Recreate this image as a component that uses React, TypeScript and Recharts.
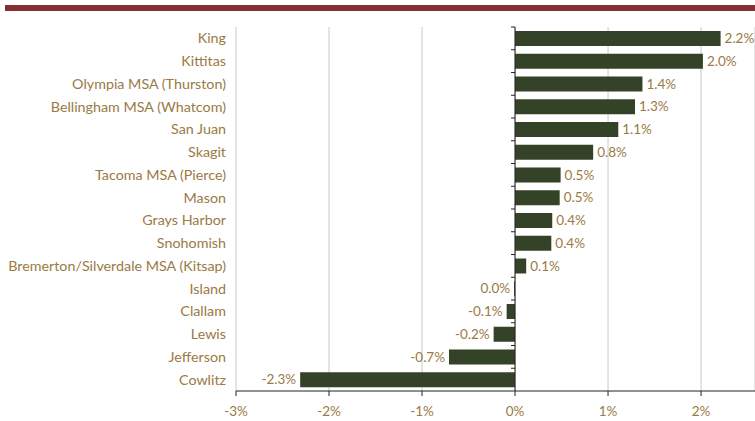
import React from 'react';
import { BarChart, Bar, XAxis, YAxis, CartesianGrid, ReferenceLine, LabelList } from 'recharts';

const counties = [
  'King',
  'Kittitas',
  'Olympia MSA (Thurston)',
  'Bellingham MSA (Whatcom)',
  'San Juan',
  'Skagit',
  'Tacoma MSA (Pierce)',
  'Mason',
  'Grays Harbor',
  'Snohomish',
  'Bremerton/Silverdale MSA (Kitsap)',
  'Island',
  'Clallam',
  'Lewis',
  'Jefferson',
  'Cowlitz',
];
const growth = [2.21, 2.02, 1.37, 1.29, 1.11, 0.84, 0.49, 0.48, 0.4, 0.39, 0.12, -0.01, -0.09, -0.23, -0.71, -2.31];
const valueLabels = ['2.2%', '2.0%', '1.4%', '1.3%', '1.1%', '0.8%', '0.5%', '0.5%', '0.4%', '0.4%', '0.1%', '0.0%', '-0.1%', '-0.2%', '-0.7%', '-2.3%'];
const xTicks = [-3, -2, -1, 0, 1, 2];
const xDomain = [-3, 2.58];

const data = counties.map((c, i) => ({ county: c, value: growth[i], label: valueLabels[i] }));

const TEXT = '#9A7A45';
const BAR = '#344228';
const FONT = 'Lato, "Noto Sans", sans-serif';

const ZeroAxis = (props: any) => {
  const { x1, y1, x2, y2 } = props;
  const top = Math.min(y1, y2);
  const bottom = Math.max(y1, y2);
  const step = (bottom - top) / counties.length;
  const ticks = [];
  for (let i = 0; i < counties.length; i++) {
    const y = top + i * step;
    ticks.push(<line key={i} x1={x1 - 4} x2={x1} y1={y} y2={y} stroke="#222" strokeWidth={1} />);
  }
  return (
    <g>
      <line x1={x1} x2={x2} y1={top} y2={bottom} stroke="#222" strokeWidth={1} />
      {ticks}
    </g>
  );
};

const ValueLabel = (props: any) => {
  const { x, y, width, height, value } = props;
  const left = Math.min(x, x + width);
  const right = Math.max(x, x + width);
  const cy = y + height / 2;
  const positive = width > 0 && x + width / 2 > x && parseFloat(String(value)) > 0;
  if (positive) {
    return (
      <text x={right + 4} y={cy} dy="0.35em" textAnchor="start" fill={TEXT} fontSize={13.5} fontFamily={FONT}>
        {value}
      </text>
    );
  }
  return (
    <text x={left - 4} y={cy} dy="0.35em" textAnchor="end" fill={TEXT} fontSize={13.5} fontFamily={FONT}>
      {value}
    </text>
  );
};

export default function App() {
  return (
    <div style={{ position: 'absolute', left: 0, top: 0, width: 755, height: 421, background: '#fff' }}>
      <div style={{ position: 'absolute', left: 5, top: 5, width: 750, height: 6, background: '#842F33' }} />
      <BarChart
        width={755}
        height={421}
        data={data}
        layout="vertical"
        margin={{ top: 27, right: 0, bottom: 0, left: 0 }}
        barSize={15}
      >
        <CartesianGrid horizontal={false} stroke="#c9c9c9" strokeWidth={1} />
        <XAxis
          type="number"
          domain={xDomain}
          ticks={xTicks}
          allowDataOverflow
          height={30}
          axisLine={{ stroke: '#222' }}
          tickLine={{ stroke: '#222' }}
          tickSize={5}
          tickMargin={10}
          tickFormatter={(v: number) => `${v}%`}
          tick={{ fill: TEXT, fontSize: 13.5, fontFamily: FONT }}
        />
        <YAxis
          type="category"
          dataKey="county"
          width={236}
          axisLine={false}
          tickLine={false}
          tickMargin={4}
          interval={0}
          tick={{ fill: TEXT, fontSize: 14.3, fontFamily: FONT }}
        />
        <Bar dataKey="value" fill={BAR} isAnimationActive={false}>
          <LabelList dataKey="label" content={<ValueLabel />} />
        </Bar>
        <ReferenceLine x={0} shape={<ZeroAxis />} />
      </BarChart>
    </div>
  );
}
